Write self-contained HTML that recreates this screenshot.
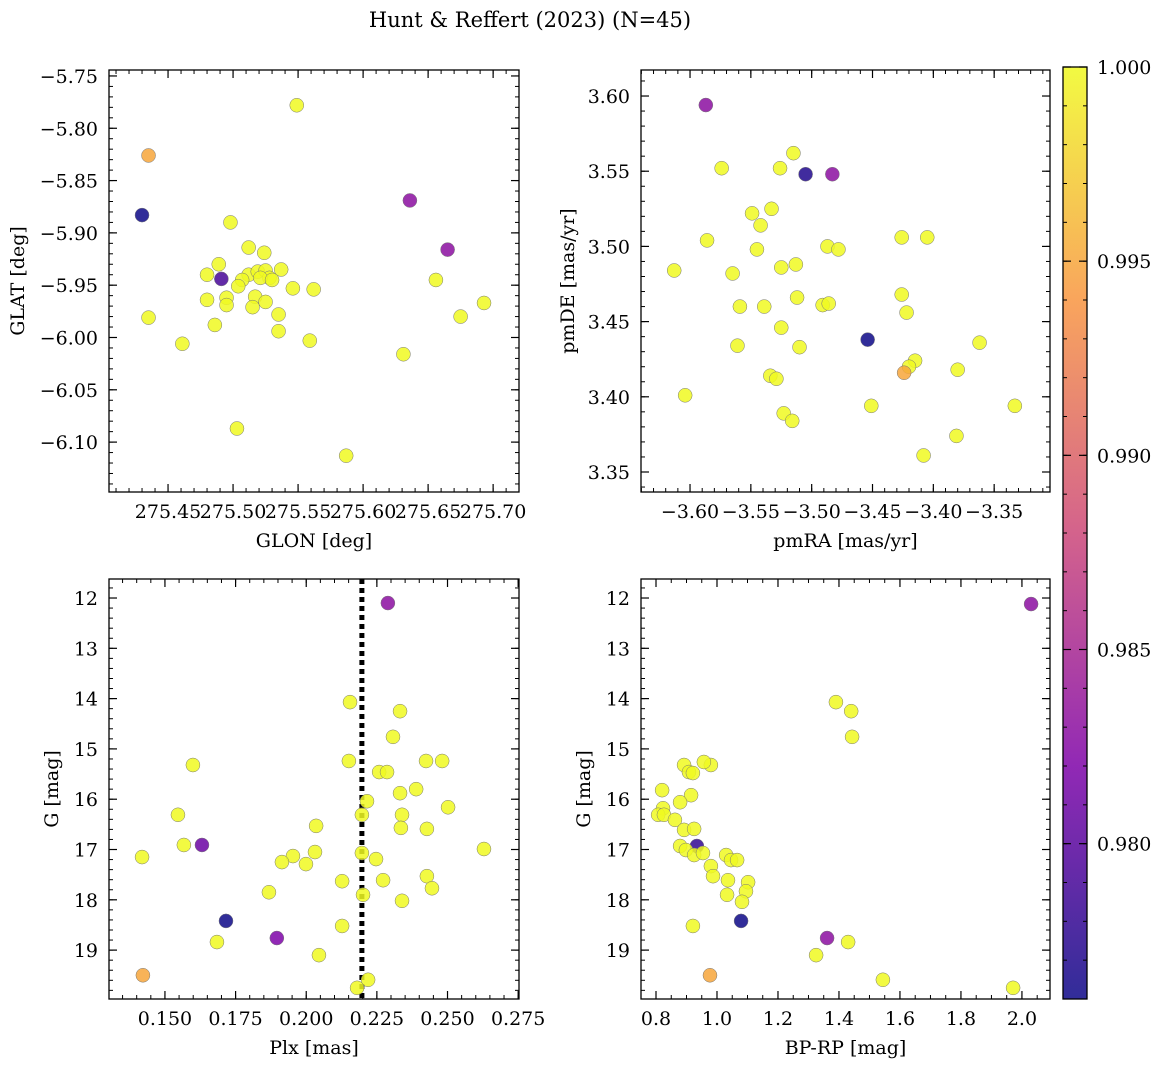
<!DOCTYPE html>
<html><head><meta charset="utf-8">
<style>
body{margin:0;background:#fff;}
svg{display:block;font-family:"DejaVu Serif","Liberation Serif",serif;}
</style></head>
<body>
<svg id="fig" width="1161" height="1067" viewBox="0 0 1161 1067" xmlns="http://www.w3.org/2000/svg">
<rect width="1161" height="1067" fill="#fff"/>
<text x="530" y="27" font-size="21" text-anchor="middle">Hunt &amp; Reffert (2023) (N=45)</text>
<defs>
<linearGradient id="plasma" x1="0" y1="1" x2="0" y2="0">
<stop offset="0" stop-color="#0d0887"/><stop offset="0.25" stop-color="#7e03a8"/><stop offset="0.5" stop-color="#cc4778"/><stop offset="0.75" stop-color="#f89540"/><stop offset="1" stop-color="#f0f921"/>
</linearGradient>
</defs>
</svg>
<script>
// ---- data ----
const glon=[275.549,275.435,275.430,275.636,275.665,275.498,275.512,275.524,275.489,275.491,275.480,275.512,275.519,275.525,275.528,275.537,275.507,275.504,275.495,275.495,275.480,275.517,275.525,275.515,275.535,275.546,275.562,275.656,275.435,275.486,275.535,275.675,275.693,275.461,275.559,275.631,275.503,275.587,275.521,275.530];
const glat=[-5.778,-5.826,-5.883,-5.869,-5.916,-5.890,-5.914,-5.919,-5.930,-5.944,-5.940,-5.940,-5.937,-5.936,-5.943,-5.935,-5.945,-5.951,-5.962,-5.969,-5.964,-5.961,-5.966,-5.971,-5.978,-5.953,-5.954,-5.945,-5.981,-5.988,-5.994,-5.980,-5.967,-6.006,-6.003,-6.016,-6.087,-6.113,-5.943,-5.945];
const probA=[1,0.995,0.976,0.983,0.983,1,1,1,1,0.979,1,1,1,1,1,1,1,1,1,1,1,1,1,1,1,1,1,1,1,1,1,1,1,1,1,1,1,1,1,1];
const pmra=[-3.587,-3.574,-3.515,-3.526,-3.505,-3.483,-3.549,-3.542,-3.533,-3.545,-3.586,-3.613,-3.565,-3.525,-3.513,-3.487,-3.478,-3.426,-3.405,-3.559,-3.539,-3.512,-3.491,-3.486,-3.426,-3.422,-3.525,-3.561,-3.510,-3.454,-3.362,-3.415,-3.420,-3.424,-3.380,-3.534,-3.529,-3.604,-3.451,-3.333,-3.523,-3.516,-3.381,-3.408];
const pmde=[3.594,3.552,3.562,3.552,3.548,3.548,3.522,3.514,3.525,3.498,3.504,3.484,3.482,3.486,3.488,3.500,3.498,3.506,3.506,3.460,3.460,3.466,3.461,3.462,3.468,3.456,3.446,3.434,3.433,3.438,3.436,3.424,3.420,3.416,3.418,3.414,3.412,3.401,3.394,3.394,3.389,3.384,3.374,3.361];
const probB=[0.983,1,1,1,0.977,0.983,1,1,1,1,1,1,1,1,1,1,1,1,1,1,1,1,1,1,1,1,1,1,1,0.976,1,1,1,0.995,1,1,1,1,1,1,1,1,1,1];
const plx=[0.2289,0.2155,0.2332,0.2307,0.1599,0.2151,0.2424,0.2481,0.2258,0.2286,0.2389,0.2332,0.2215,0.2502,0.1546,0.2339,0.2197,0.2035,0.2335,0.2427,0.1631,0.1567,0.2629,0.2197,0.2031,0.1953,0.1914,0.1999,0.1419,0.2247,0.2127,0.2272,0.2427,0.2445,0.1868,0.2201,0.2339,0.1716,0.2127,0.1684,0.1896,0.2045,0.1422,0.2219,0.2180];
const gmagC=[12.10,14.07,14.25,14.76,15.32,15.24,15.24,15.24,15.46,15.46,15.80,15.88,16.04,16.16,16.31,16.31,16.31,16.53,16.57,16.59,16.91,16.91,16.99,17.07,17.05,17.13,17.25,17.29,17.15,17.19,17.63,17.61,17.53,17.77,17.85,17.90,18.02,18.42,18.52,18.84,18.76,19.10,19.50,19.59,19.75];
const probC=[0.983,1,1,1,1,1,1,1,1,1,1,1,1,1,1,1,1,1,1,1,0.981,1,1,1,1,1,1,1,1,1,1,1,1,1,1,1,1,0.976,1,1,0.982,1,0.995,1,1];
const plxLine=[0.2197];
const bprp=[2.030,1.390,1.440,1.443,0.892,0.980,0.957,0.908,0.921,0.820,0.915,0.879,0.823,0.807,0.826,0.862,0.892,0.925,0.879,0.934,0.898,0.925,0.954,1.030,1.046,0.980,1.066,0.987,1.036,1.102,1.095,1.033,1.082,1.079,0.921,1.361,1.430,1.325,0.977,1.544,1.971];
const gmagD=[12.12,14.07,14.25,14.76,15.32,15.32,15.26,15.46,15.48,15.82,15.92,16.06,16.18,16.31,16.31,16.41,16.61,16.59,16.93,16.93,17.01,17.11,17.07,17.11,17.21,17.33,17.21,17.53,17.61,17.65,17.83,17.90,18.04,18.42,18.52,18.76,18.84,19.10,19.50,19.59,19.75];
const probD=[0.983,1,1,1,1,1,1,1,1,1,1,1,1,1,1,1,1,1,1,0.978,1,1,1,1,1,1,1,1,1,1,1,1,1,0.976,1,0.983,1,1,0.995,1,1];
const cbTicks=[0.980,0.985,0.990,0.995,1.000];
const ticksA_x=[275.45,275.50,275.55,275.60,275.65,275.70];
const ticksA_y=[-5.75,-5.80,-5.85,-5.90,-5.95,-6.00,-6.05,-6.10];
const ticksB_x=[-3.60,-3.55,-3.50,-3.45,-3.40,-3.35];
const ticksB_y=[3.35,3.40,3.45,3.50,3.55,3.60];
const ticksC_x=[0.150,0.175,0.200,0.225,0.250,0.275];
const ticksG=[12,13,14,15,16,17,18,19];
const ticksD_x=[0.8,1.0,1.2,1.4,1.6,1.8,2.0];

const NS="http://www.w3.org/2000/svg";
const svg=document.getElementById('fig');
function mk(tag,attrs,parent){const e=document.createElementNS(NS,tag);for(const k in attrs)e.setAttribute(k,attrs[k]);(parent||svg).appendChild(e);return e;}
const stops=[[0,[13,8,135]],[0.25,[126,3,168]],[0.5,[204,71,120]],[0.75,[248,149,64]],[1,[240,249,33]]];
const cmin=0.976,cmax=1.0;
function cmap(v){let t=(v-cmin)/(cmax-cmin);t=Math.max(0,Math.min(1,t));for(let i=0;i<stops.length-1;i++){const a=stops[i],b=stops[i+1];if(t<=b[0]){const f=(t-a[0])/(b[0]-a[0]);return 'rgb('+a[1].map((c,j)=>Math.round(c+(b[1][j]-c)*f)).join(',')+')';}}return 'rgb(240,249,33)';}
function fmt(v,d){return v.toFixed(d).replace('-','\u2212');}
const TF=19;

function panel(o){
  const g=mk('g',{});
  
  
  const X=v=>o.x0+(v-o.xd[0])/(o.xd[1]-o.xd[0])*(o.x1-o.x0);
  const Y=v=>o.y1-(v-o.yd[0])/(o.yd[1]-o.yd[0])*(o.y1-o.y0);
  const minorX=[],minorY=[];
  for(let v=Math.ceil(o.xd[0]/o.xm-1e-6)*o.xm;v<=Math.max(...o.xd);v+=o.xm)minorX.push(v);
  const ylo=Math.min(...o.yd),yhi=Math.max(...o.yd);
  for(let v=Math.ceil(ylo/o.ym-1e-6)*o.ym;v<=yhi;v+=o.ym)minorY.push(v);
  minorX.forEach(v=>{const x=X(v);mk('line',{x1:x,x2:x,y1:o.y1,y2:o.y1-4,stroke:'#000','stroke-width':1},g);mk('line',{x1:x,x2:x,y1:o.y0,y2:o.y0+4,stroke:'#000','stroke-width':1},g);});
  minorY.forEach(v=>{const y=Y(v);mk('line',{x1:o.x0,x2:o.x0+4,y1:y,y2:y,stroke:'#000','stroke-width':1},g);mk('line',{x1:o.x1,x2:o.x1-4,y1:y,y2:y,stroke:'#000','stroke-width':1},g);});
  o.tx.forEach(v=>{const x=X(v);mk('line',{x1:x,x2:x,y1:o.y1,y2:o.y1-8,stroke:'#000','stroke-width':1.2},g);mk('line',{x1:x,x2:x,y1:o.y0,y2:o.y0+8,stroke:'#000','stroke-width':1.2},g);
    const t=mk('text',{x:x,y:o.y1+26,'font-size':TF,'text-anchor':'middle'},g);t.textContent=fmt(v,o.txd);
    
    });
  o.ty.forEach(v=>{const y=Y(v);mk('line',{x1:o.x0,x2:o.x0+8,y1:y,y2:y,stroke:'#000','stroke-width':1.2},g);mk('line',{x1:o.x1,x2:o.x1-8,y1:y,y2:y,stroke:'#000','stroke-width':1.2},g);
    const t=mk('text',{x:o.x0-11,y:y+7,'font-size':TF,'text-anchor':'end'},g);t.textContent=fmt(v,o.tyd);
    
    });
  if(o.vline){const x=X(o.vline[0]);const l=mk('line',{x1:x,x2:x,y1:o.y0,y2:o.y1,stroke:'#000','stroke-width':5,'stroke-dasharray':'5,4'},g);
    
    }
  o.xs.forEach((v,i)=>{const c=mk('circle',{cx:X(v),cy:Y(o.ys[i]),r:7,fill:cmap(o.cs[i]),'fill-opacity':0.85,stroke:'#777','stroke-width':0.5},g);
    
    });
  mk('rect',{x:o.x0,y:o.y0,width:o.x1-o.x0,height:o.y1-o.y0,fill:'none',stroke:'#000','stroke-width':1.3},g);
  const xl=mk('text',{x:(o.x0+o.x1)/2,y:o.y1+55,'font-size':TF,'text-anchor':'middle'},g);xl.textContent=o.xl;
  
  
  const yx=o.ylx,yy=(o.y0+o.y1)/2;
  const yl=mk('text',{x:yx,y:yy,'font-size':TF,'text-anchor':'middle',transform:'rotate(-90 '+yx+' '+yy+')'},g);yl.textContent=o.yl;
  
  
}
panel({name:'glon-glat-panel',x0:109,x1:519,y0:70,y1:492,xd:[275.4046,275.7199],yd:[-6.1477,-5.7443],xm:0.01,ym:0.01,tx:ticksA_x,ty:ticksA_y,txd:2,tyd:2,xs:glon,ys:glat,cs:probA,xl:'GLON [deg]',yl:'GLAT [deg]',ylx:24});
panel({name:'proper-motion-panel',x0:641,x1:1050,y0:70,y1:492,xd:[-3.6403,-3.3041],yd:[3.3367,3.6173],xm:0.01,ym:0.01,tx:ticksB_x,ty:ticksB_y,txd:2,tyd:2,xs:pmra,ys:pmde,cs:probB,xl:'pmRA [mas/yr]',yl:'pmDE [mas/yr]',ylx:574});
panel({name:'plx-g-panel',x0:109,x1:519,y0:579,y1:999,xd:[0.1302,0.2753],yd:[19.972,11.622],xm:0.005,ym:0.2,tx:ticksC_x,ty:ticksG,txd:3,tyd:0,xs:plx,ys:gmagC,cs:probC,xl:'Plx [mas]',yl:'G [mag]',ylx:58,vline:plxLine});
panel({name:'cmd-panel',x0:641,x1:1050,y0:579,y1:999,xd:[0.7508,2.092],yd:[19.972,11.622],xm:0.05,ym:0.2,tx:ticksD_x,ty:ticksG,txd:1,tyd:0,xs:bprp,ys:gmagD,cs:probD,xl:'BP-RP [mag]',yl:'G [mag]',ylx:590});

// colorbar
const cb=mk('g',{});


const cx0=1063,cx1=1087,cy0=67,cy1=999;
const CY=v=>cy1-(v-cmin)/(cmax-cmin)*(cy1-cy0);
mk('rect',{x:cx0,y:cy0,width:cx1-cx0,height:cy1-cy0,fill:'url(#plasma)','fill-opacity':0.85},cb);
for(let v=0.977;v<=1.0001;v+=0.001){const y=CY(v);mk('line',{x1:cx0,x2:cx0+4,y1:y,y2:y,stroke:'#000'},cb);mk('line',{x1:cx1,x2:cx1-4,y1:y,y2:y,stroke:'#000'},cb);}
cbTicks.forEach(v=>{const y=CY(v);mk('line',{x1:cx0,x2:cx0+8,y1:y,y2:y,stroke:'#000','stroke-width':1.2},cb);mk('line',{x1:cx1,x2:cx1-8,y1:y,y2:y,stroke:'#000','stroke-width':1.2},cb);
  const t=mk('text',{x:cx1+10,y:y+7,'font-size':TF},cb);t.textContent=v.toFixed(3);
  
  });
mk('rect',{x:cx0,y:cy0,width:cx1-cx0,height:cy1-cy0,fill:'none',stroke:'#000','stroke-width':1.3},cb);
</script>
</body></html>
